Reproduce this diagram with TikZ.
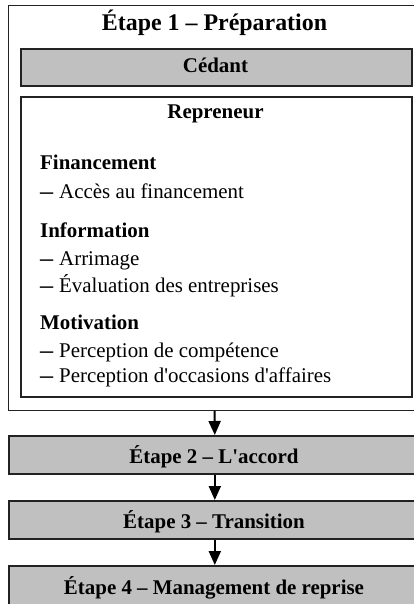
\documentclass[tikz,border=0pt]{standalone}
\usepackage{fontspec}
\setmainfont{Liberation Serif}
\usetikzlibrary{arrows.meta}
\definecolor{boxgray}{HTML}{C0C0C0}
\definecolor{edge}{HTML}{222222}
\newcommand{\itemdash}{\makebox[19bp][l]{\scalebox{1.25}[1]{\textbf{–}}}}
\newcommand{\sq}{\textquotesingle}
\begin{document}
\begin{tikzpicture}[x=1bp,y=-1bp,
  frame/.style={draw=edge, line width=1bp, inner sep=0pt, anchor=north west},
  graybox/.style={draw=edge, fill=boxgray, line width=1.6bp, inner sep=0pt, anchor=north west},
  whitebox/.style={draw=edge, line width=1.6bp, inner sep=0pt, anchor=north west},
  lbl/.style={anchor=base, inner sep=0pt, font=\fontsize{21}{25}\selectfont\bfseries},
  ttl/.style={anchor=base, inner sep=0pt, font=\fontsize{24}{28}\selectfont\bfseries},
  head/.style={anchor=base west, inner sep=0pt, font=\fontsize{21}{25}\selectfont\bfseries},
  itm/.style={anchor=base west, inner sep=0pt, font=\fontsize{21}{25}\selectfont},
  flow/.style={draw=black, line width=2bp, -{Triangle[width=12bp,length=14bp]}}
]
\useasboundingbox (0,0) rectangle (413,604);
% Stage 1 frame
\node[frame, minimum width=412bp, minimum height=405bp] (e1) at (8,5) {};
\node[ttl] (t1) at (214.5,31) {Étape 1 – Préparation};
% Cédant
\node[graybox, minimum width=391bp, minimum height=37bp] (ced) at (20,48) {};
\node[lbl] (tced) at (215.5,73) {Cédant};
% Repreneur
\node[whitebox, minimum width=391bp, minimum height=300bp] (rep) at (20,96) {};
\node[lbl] (trep) at (215.5,119) {Repreneur};
\node[head] (h1) at (40,170) {Financement};
\node[itm] (i1) at (40,198) {\itemdash Accès au financement};
\node[head] (h2) at (40,237) {Information};
\node[itm] (i2) at (40,265) {\itemdash Arrimage};
\node[itm] (i3) at (40,292) {\itemdash Évaluation des entreprises};
\node[head] (h3) at (40,329) {Motivation};
\node[itm] (i4) at (40,357) {\itemdash Perception de compétence};
\node[itm] (i5) at (40,382) {\itemdash Perception d\sq occasions d\sq affaires};
% Stages 2-4
\node[graybox, minimum width=412bp, minimum height=38bp] (e2) at (8,435) {};
\node[lbl] (t2) at (214,463) {Étape 2 – L\sq accord};
\node[graybox, minimum width=412bp, minimum height=38bp] (e3) at (8,500) {};
\node[lbl] (t3) at (214,528) {Étape 3 – Transition};
\node[graybox, minimum width=412bp, minimum height=40bp] (e4) at (8,565) {};
\node[lbl] (t4) at (214,594) {Étape 4 – Management de reprise};
% Arrows
\draw[flow] (e1.south) -- (e2.north);
\draw[flow] (e2.south) -- (e3.north);
\draw[flow] (e3.south) -- (e4.north);
\end{tikzpicture}
\end{document}
